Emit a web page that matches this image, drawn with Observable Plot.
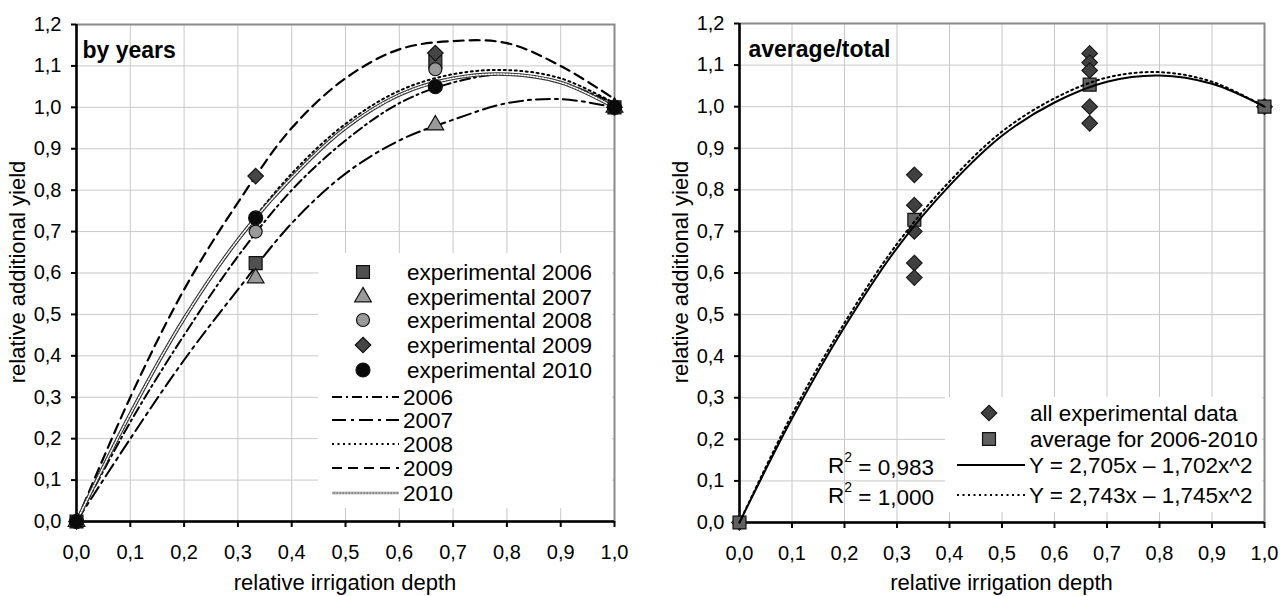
<!DOCTYPE html>
<html>
<head>
<meta charset="utf-8">
<script src="https://cdn.jsdelivr.net/npm/d3@7"></script>
<script src="https://cdn.jsdelivr.net/npm/@observablehq/plot@0.6"></script>
<style>
  body { margin: 0; background: #fff; }
  #wrap { display: flex; width: 1280px; height: 596px; overflow: hidden; }
  svg { font-family: "Liberation Sans", Arial, sans-serif; }
</style>
</head>
<body>
<div id="wrap"></div>
<script>
// ---------- data ----------
const xTicks = [0, 0.1, 0.2, 0.3, 0.4, 0.5, 0.6, 0.7, 0.8, 0.9, 1.0];
const yTicks = [0, 0.1, 0.2, 0.3, 0.4, 0.5, 0.6, 0.7, 0.8, 0.9, 1.0, 1.1, 1.2];

// experimental points (relative irrigation depth levels)
const depthLevels = [0, 0.333, 0.667, 1.0];
const exp2006 = [0, 0.624, 1.11, 1.0];
const exp2007 = [0, 0.588, 0.957, 1.0];
const exp2008 = [0, 0.70, 1.092, 1.0];
const exp2009 = [0, 0.834, 1.131, 1.0];
const exp2010 = [0, 0.733, 1.05, 1.0];

// fitted curves
const curveX = [0, 0.1, 0.2, 0.3, 0.4, 0.5, 0.6, 0.7, 0.8, 0.9, 1.0];
const fit2006 = [0, 0.24, 0.45, 0.64, 0.80, 0.92, 1.01, 1.06, 1.08, 1.06, 1.01];
const fit2007 = [0, 0.20, 0.39, 0.56, 0.72, 0.84, 0.92, 0.97, 1.01, 1.02, 1.00];
const fit2008 = [0, 0.26, 0.49, 0.68, 0.84, 0.96, 1.04, 1.08, 1.09, 1.07, 1.01];
const fit2009 = [0, 0.30, 0.56, 0.77, 0.95, 1.07, 1.14, 1.16, 1.155, 1.10, 1.02];
const fit2010 = [0, 0.26, 0.49, 0.68, 0.83, 0.95, 1.03, 1.07, 1.08, 1.06, 1.00];

// right panel
const allDepth = [0, 0.333, 0.333, 0.333, 0.333, 0.333, 0.667, 0.667, 0.667, 0.667, 0.667, 1.0];
const allYield = [0, 0.836, 0.763, 0.70, 0.624, 0.589, 1.128, 1.106, 1.087, 1.00, 0.96, 1.0];
const avgYield = [0, 0.728, 1.053, 1.0];
const fitAll = [0, 0.25, 0.47, 0.66, 0.81, 0.93, 1.01, 1.06, 1.075, 1.055, 1.00];
const fitAvg = [0, 0.26, 0.48, 0.67, 0.82, 0.94, 1.02, 1.07, 1.083, 1.06, 1.00];

const r2Labels = ["0,983", "1,000"];
const eqLabels = ["Y = 2,705x \u2013 1,702x^2", "Y = 2,743x \u2013 1,745x^2"];

// ---------- helpers ----------
const FONT = '"Liberation Sans", Arial, sans-serif';
const fmt = d => d.toFixed(1).replace(".", ",");
const pts = (xs, ys) => xs.map((x, i) => ({x, y: ys[i]}));

const lineStyles = {
  "2006": {stroke: "#000", strokeWidth: 2, strokeDasharray: "10,4,2,4"},
  "2007": {stroke: "#000", strokeWidth: 2, strokeDasharray: "14,5,3,5"},
  "2008": {stroke: "#000", strokeWidth: 2, strokeDasharray: "2,3.5"},
  "2009": {stroke: "#000", strokeWidth: 2.2, strokeDasharray: "10,6"}
};
const markerStyles = {
  "2006": {symbol: "square", r: 7.3, fill: "#505050"},
  "2007": {symbol: "triangle", r: 6.2, fill: "#9a9a9a"},
  "2008": {symbol: "circle", r: 6.5, fill: "#9a9a9a"},
  "2009": {symbol: "diamond2", r: 7, fill: "#454545"},
  "2010": {symbol: "circle", r: 7, fill: "#0a0a0a"}
};

function baseMarks() {
  return [
    Plot.gridX(xTicks, {stroke: "#c8c8c8", strokeOpacity: 1, strokeWidth: 1}),
    Plot.gridY(yTicks, {stroke: "#c8c8c8", strokeOpacity: 1, strokeWidth: 1}),
    Plot.frame({stroke: "#8a8a8a", strokeWidth: 2}),
    Plot.axisX(xTicks, {tickFormat: fmt, tickSize: 6, tickPadding: 17, strokeWidth: 2, label: null, fontSize: 20}),
    Plot.axisY(yTicks, {tickFormat: fmt, tickSize: 5, tickPadding: 10, strokeWidth: 2, label: null, fontSize: 20}),
    Plot.ruleY([0], {stroke: "#000", strokeWidth: 2.5}),
    Plot.ruleX([0], {stroke: "#000", strokeWidth: 2.5})
  ];
}

function plotOpts(marks, ml, mr, mt, mb) {
  return {
    width: 640, height: 596,
    marginLeft: ml, marginRight: mr, marginTop: mt, marginBottom: mb,
    x: {domain: [0, 1]},
    y: {domain: [0, 1.2]},
    style: {fontFamily: FONT, fontSize: "20px", color: "#000", background: "transparent", overflow: "visible"},
    marks
  };
}

function symPath(name, r) {
  const map = {square: d3.symbolSquare, triangle: d3.symbolTriangle, circle: d3.symbolCircle, diamond2: d3.symbolDiamond2};
  return d3.symbol(map[name], Math.PI * r * r)();
}

function axisTitles(svg, cx, yTitleX) {
  const s = d3.select(svg);
  s.append("text").attr("x", cx).attr("y", 590).attr("text-anchor", "middle")
    .attr("font-size", 22).attr("font-family", FONT).attr("fill", "#000")
    .text("relative irrigation depth");
  s.append("text").attr("transform", `translate(${yTitleX},272) rotate(-90)`)
    .attr("text-anchor", "middle").attr("font-size", 22).attr("font-family", FONT).attr("fill", "#000")
    .text("relative additional yield");
}

// ---------- left panel ----------
const years = ["2006", "2007", "2008", "2009", "2010"];
const expData = {"2006": exp2006, "2007": exp2007, "2008": exp2008, "2009": exp2009, "2010": exp2010};
const fitData = {"2006": fit2006, "2007": fit2007, "2008": fit2008, "2009": fit2009, "2010": fit2010};

const leftMarks = [...baseMarks()];
for (const yr of ["2006", "2007", "2008", "2009"]) {
  leftMarks.push(Plot.line(pts(curveX, fitData[yr]), {x: "x", y: "y", curve: "catmull-rom", ...lineStyles[yr]}));
}
leftMarks.push(Plot.line(pts(curveX, fit2010), {x: "x", y: "y", curve: "catmull-rom", stroke: "#333", strokeWidth: 3.6}));
leftMarks.push(Plot.line(pts(curveX, fit2010), {x: "x", y: "y", curve: "catmull-rom", stroke: "#fff", strokeWidth: 1.5, strokeDasharray: "1.5,1.5"}));
for (const yr of years) {
  const m = markerStyles[yr];
  leftMarks.push(Plot.dot(pts(depthLevels, expData[yr]), {x: "x", y: "y", symbol: m.symbol, r: m.r, fill: m.fill, stroke: "#111", strokeWidth: 1.2}));
}
leftMarks.push(Plot.text(["by years"], {frameAnchor: "top-left", dx: 6, dy: 17, lineAnchor: "top", textAnchor: "start", fontWeight: "bold", fontSize: 23, fill: "#000"}));

const left = Plot.plot(plotOpts(leftMarks, 76, 26, 24, 75));
axisTitles(left, 345, 25);

{
  const g = d3.select(left).append("g").attr("font-family", FONT).attr("font-size", 22.5)
    .attr("fill", "#000").attr("text-anchor", "start");
  g.append("rect").attr("x", 318).attr("y", 253).attr("width", 294).attr("height", 255).attr("fill", "#fff");
  const rowsM = [272, 297, 320, 345, 370];
  years.forEach((yr, i) => {
    const m = markerStyles[yr];
    g.append("path").attr("d", symPath(m.symbol, m.r)).attr("transform", `translate(363,${rowsM[i]})`)
      .attr("fill", m.fill).attr("stroke", "#111").attr("stroke-width", 1.2);
    g.append("text").attr("x", 407).attr("y", rowsM[i]).attr("dy", "0.35em").attr("text-anchor", "start").text("experimental " + yr);
  });
  const rowsL = [397, 420, 444, 468, 493];
  years.forEach((yr, i) => {
    const y = rowsL[i];
    if (yr === "2010") {
      g.append("line").attr("x1", 332).attr("x2", 399).attr("y1", y).attr("y2", y).attr("stroke", "#888").attr("stroke-width", 2.4);
      g.append("line").attr("x1", 332).attr("x2", 399).attr("y1", y).attr("y2", y).attr("stroke", "#fff").attr("stroke-width", 0.8).attr("stroke-dasharray", "1.5,1.5");
    } else {
      const s = lineStyles[yr];
      g.append("line").attr("x1", 332).attr("x2", 399).attr("y1", y).attr("y2", y)
        .attr("stroke", s.stroke).attr("stroke-width", s.strokeWidth).attr("stroke-dasharray", s.strokeDasharray);
    }
    g.append("text").attr("x", 403).attr("y", y).attr("dy", "0.35em").attr("text-anchor", "start").text(yr);
  });
}

// ---------- right panel ----------
const rightMarks = [...baseMarks()];
rightMarks.push(Plot.dot(pts(allDepth, allYield), {x: "x", y: "y", symbol: "diamond2", r: 7, fill: "#404040", stroke: "#1a1a1a", strokeWidth: 1.2}));
rightMarks.push(Plot.dot(pts(depthLevels, avgYield), {x: "x", y: "y", symbol: "square", r: 7.3, fill: "#606060", stroke: "#111", strokeWidth: 1.2}));
rightMarks.push(Plot.line(pts(curveX, fitAll), {x: "x", y: "y", curve: "catmull-rom", stroke: "#000", strokeWidth: 2}));
rightMarks.push(Plot.line(pts(curveX, fitAvg), {x: "x", y: "y", curve: "catmull-rom", stroke: "#000", strokeWidth: 2, strokeDasharray: "2,3.5"}));
rightMarks.push(Plot.text(["average/total"], {frameAnchor: "top-left", dx: 9, dy: 17, lineAnchor: "top", textAnchor: "start", fontWeight: "bold", fontSize: 23, fill: "#000"}));

const right = Plot.plot(plotOpts(rightMarks, 99, 16, 23, 74));
axisTitles(right, 99 + (640 - 99 - 16) / 2, 48);

{
  const g = d3.select(right).append("g").attr("font-family", FONT).attr("font-size", 22.5)
    .attr("fill", "#000").attr("text-anchor", "start");
  g.append("rect").attr("x", 305).attr("y", 397).attr("width", 317).attr("height", 115).attr("fill", "#fff");
  g.append("path").attr("d", symPath("diamond2", 7)).attr("transform", "translate(349,413)")
    .attr("fill", "#404040").attr("stroke", "#1a1a1a").attr("stroke-width", 1.2);
  g.append("text").attr("x", 390).attr("y", 413).attr("dy", "0.35em").attr("text-anchor", "start").text("all experimental data");
  g.append("path").attr("d", symPath("square", 7.3)).attr("transform", "translate(349,439)")
    .attr("fill", "#606060").attr("stroke", "#111").attr("stroke-width", 1.2);
  g.append("text").attr("x", 390).attr("y", 439).attr("dy", "0.35em").attr("text-anchor", "start").text("average for 2006-2010");
  const rows = [465, 495];
  const dashes = [null, "2,3.5"];
  rows.forEach((y, i) => {
    const ln = g.append("line").attr("x1", 317).attr("x2", 385).attr("y1", y).attr("y2", y).attr("stroke", "#000").attr("stroke-width", 2);
    if (dashes[i]) ln.attr("stroke-dasharray", dashes[i]);
    g.append("text").attr("x", 389).attr("y", y).attr("dy", "0.35em").attr("text-anchor", "start").text(eqLabels[i]);
    const t = g.append("text").attr("x", 294).attr("y", y).attr("dy", "0.35em").attr("text-anchor", "end");
    t.append("tspan").text("R");
    t.append("tspan").attr("font-size", 14).attr("dy", "-0.75em").text("2");
    t.append("tspan").attr("dy", "0.55em").text(" = " + r2Labels[i]);
  });
}

const wrap = document.getElementById("wrap");
wrap.appendChild(left);
wrap.appendChild(right);
</script>
</body>
</html>
